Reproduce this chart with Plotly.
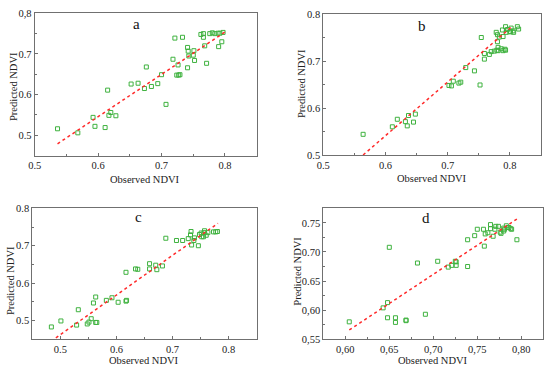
import plotly.graph_objects as go

# ---------------- data ----------------
a_obs = [0.536, 0.568, 0.592, 0.595, 0.611, 0.615, 0.617, 0.620, 0.628, 0.652, 0.663, 0.673, 0.676,
         0.684, 0.694, 0.700, 0.707, 0.718, 0.721, 0.724, 0.727, 0.729, 0.726, 0.733, 0.741, 0.741,
         0.742, 0.743, 0.750, 0.751, 0.752, 0.762, 0.766, 0.766, 0.768, 0.771, 0.776, 0.780, 0.784,
         0.789, 0.790, 0.795, 0.797, 0.792]
a_pred = [0.516, 0.506, 0.544, 0.522, 0.519, 0.611, 0.549, 0.556, 0.548, 0.626, 0.628, 0.615, 0.668,
          0.620, 0.627, 0.649, 0.576, 0.687, 0.739, 0.648, 0.648, 0.649, 0.673, 0.741, 0.716, 0.666,
          0.707, 0.695, 0.697, 0.708, 0.684, 0.748, 0.750, 0.741, 0.720, 0.677, 0.750, 0.752, 0.750,
          0.751, 0.718, 0.730, 0.753, 0.751]
a_fit_x = [0.536, 0.800]
a_fit_y = [0.479, 0.754]

b_obs = [0.564, 0.611, 0.619, 0.632, 0.635, 0.637, 0.645, 0.648, 0.702, 0.706, 0.709, 0.718, 0.721,
         0.729, 0.743, 0.752, 0.754, 0.759, 0.759, 0.767, 0.770, 0.775, 0.779, 0.778, 0.780, 0.780,
         0.781, 0.783, 0.786, 0.788, 0.789, 0.792, 0.793, 0.793, 0.794, 0.796, 0.800, 0.802, 0.805,
         0.806, 0.781, 0.812, 0.814, 0.789, 0.801]
b_pred = [0.544, 0.560, 0.576, 0.571, 0.562, 0.584, 0.570, 0.587, 0.648, 0.647, 0.657, 0.653, 0.655,
          0.686, 0.679, 0.649, 0.750, 0.704, 0.716, 0.714, 0.720, 0.721, 0.723, 0.761, 0.756, 0.741,
          0.729, 0.751, 0.726, 0.766, 0.722, 0.725, 0.723, 0.773, 0.761, 0.767, 0.762, 0.770, 0.764,
          0.761, 0.722, 0.773, 0.768, 0.752, 0.763]
b_fit_x = [0.564, 0.803]
b_fit_y = [0.500, 0.773]

c_obs = [0.484, 0.501, 0.529, 0.532, 0.548, 0.551, 0.555, 0.559, 0.563, 0.563, 0.565, 0.582, 0.592,
         0.603, 0.617, 0.618, 0.617, 0.634, 0.638, 0.659, 0.659, 0.670, 0.672, 0.682, 0.688, 0.707,
         0.718, 0.728, 0.732, 0.733, 0.734, 0.738, 0.739, 0.746, 0.748, 0.751, 0.752, 0.756, 0.757,
         0.760, 0.763, 0.773, 0.777, 0.780, 0.755]
c_pred = [0.483, 0.499, 0.488, 0.529, 0.491, 0.496, 0.505, 0.547, 0.563, 0.495, 0.495, 0.554, 0.561,
          0.549, 0.629, 0.554, 0.552, 0.638, 0.637, 0.652, 0.638, 0.648, 0.636, 0.646, 0.720, 0.714,
          0.714, 0.719, 0.729, 0.738, 0.702, 0.714, 0.721, 0.700, 0.730, 0.734, 0.724, 0.735, 0.740,
          0.728, 0.735, 0.737, 0.737, 0.738, 0.724]
c_fit_x = [0.492, 0.781]
c_fit_y = [0.454, 0.760]

d_obs = [0.6045, 0.643, 0.648, 0.648, 0.650, 0.657, 0.657, 0.669, 0.669, 0.682, 0.691, 0.705, 0.717,
         0.721, 0.725, 0.726, 0.726, 0.739, 0.739, 0.747, 0.750, 0.757, 0.758, 0.759, 0.762, 0.765,
         0.765, 0.768, 0.770, 0.771, 0.774, 0.776, 0.777, 0.780, 0.780, 0.781, 0.783, 0.785, 0.786,
         0.788, 0.789, 0.795]
d_pred = [0.580, 0.604, 0.613, 0.587, 0.708, 0.587, 0.579, 0.583, 0.582, 0.681, 0.593, 0.684, 0.674,
          0.677, 0.684, 0.677, 0.683, 0.721, 0.675, 0.728, 0.739, 0.739, 0.710, 0.731, 0.733, 0.747,
          0.740, 0.727, 0.739, 0.744, 0.744, 0.734, 0.732, 0.741, 0.736, 0.739, 0.745, 0.742, 0.742,
          0.740, 0.739, 0.721]
d_fit_x = [0.6045, 0.797]
d_fit_y = [0.566, 0.7586]

# tick labels
ab_x_vals = [0.5, 0.6, 0.7, 0.8]
ab_x_text = ["0.5", "0.6", "0.7", "0.8"]
a_y_vals = [0.5, 0.6, 0.7, 0.8]
a_y_text = ["0.5", "0.6", "0.7", "0,8"]
b_y_vals = [0.5, 0.6, 0.7, 0.8]
b_y_text = ["0.5", "0.6", "0.7", "0.8"]
c_x_vals = [0.5, 0.6, 0.7, 0.8]
c_x_text = ["0.5", "0.6", "0.7", "0.8"]
c_y_vals = [0.5, 0.6, 0.7, 0.8]
c_y_text = ["0.5", "0.6", "0.7", "0.8"]
d_x_vals = [0.60, 0.65, 0.70, 0.75, 0.80]
d_x_text = ["0,60", "0,65", "0,70", "0,75", "0,80"]
d_y_vals = [0.55, 0.60, 0.65, 0.70, 0.75]
d_y_text = ["0,55", "0,60", "0.65", "0.70", "0.75"]

panel_letters = ["a", "b", "c", "d"]
x_title = "Observed NDVI"
y_title = "Predicted NDVI"

# ---------------- figure ----------------
W, H = 550, 373
GREEN = "#3fb23f"
RED = "#ff2a2a"
FRAME = "#707070"
FONT = "Liberation Serif"

fig = go.Figure()

panels = [
    dict(obs=a_obs, pred=a_pred, fx=a_fit_x, fy=a_fit_y, xr=[0.5, 0.85], yr=[0.45, 0.8],
         xv=ab_x_vals, xt=ab_x_text, yv=a_y_vals, yt=a_y_text, xm=0.05, ym=0.05,
         px=(34.7, 256.7), py=(13.3, 155.6)),
    dict(obs=b_obs, pred=b_pred, fx=b_fit_x, fy=b_fit_y, xr=[0.5, 0.85], yr=[0.5, 0.8],
         xv=ab_x_vals, xt=ab_x_text, yv=b_y_vals, yt=b_y_text, xm=0.05, ym=0.05,
         px=(323.3, 541.0), py=(14.0, 155.0)),
    dict(obs=c_obs, pred=c_pred, fx=c_fit_x, fy=c_fit_y, xr=[0.45, 0.85], yr=[0.45, 0.8],
         xv=c_x_vals, xt=c_x_text, yv=c_y_vals, yt=c_y_text, xm=0.05, ym=0.05,
         px=(32.3, 256.7), py=(208.3, 339.3)),
    dict(obs=d_obs, pred=d_pred, fx=d_fit_x, fy=d_fit_y, xr=[0.575, 0.825], yr=[0.55, 0.775],
         xv=d_x_vals, xt=d_x_text, yv=d_y_vals, yt=d_y_text, xm=0.025, ym=0.025,
         px=(323.3, 543.3), py=(208.3, 339.3)),
]

letter_pos = [(136.7, 24), (421.7, 25.7), (138.3, 217), (426, 217.7)]
xt_pos = [(145, 179), (431.7, 178), (144, 360.5), (433.3, 360)]
yt_pos = [(13.3, 86.7), (301.7, 83.3), (10, 281), (296.7, 271)]

annotations = []
for i, p in enumerate(panels):
    n = "" if i == 0 else str(i + 1)
    xa, ya = "x" + n, "y" + n
    fig.add_trace(go.Scatter(x=p["obs"], y=p["pred"], mode="markers", xaxis=xa, yaxis=ya,
                             marker=dict(symbol="square-open", size=4, color=GREEN,
                                         line=dict(width=1, color=GREEN)),
                             showlegend=False, hoverinfo="skip"))
    fig.add_trace(go.Scatter(x=p["fx"], y=p["fy"], mode="lines", xaxis=xa, yaxis=ya,
                             line=dict(color=RED, width=1.5, dash="dot"),
                             showlegend=False, hoverinfo="skip"))
    axis_common = dict(showline=True, mirror=True, linecolor=FRAME, linewidth=1,
                       showgrid=False, zeroline=False, ticks="inside", ticklen=3,
                       tickcolor=FRAME, tickwidth=1, automargin=False,
                       tickfont=dict(family=FONT, size=10.5, color="#222"))
    fig.layout["xaxis" + n] = dict(
        **axis_common, domain=[p["px"][0] / W, p["px"][1] / W], range=p["xr"],
        anchor=ya, tickmode="array", tickvals=p["xv"], ticktext=p["xt"],
        minor=dict(ticks="inside", ticklen=2, dtick=p["xm"], tick0=0, tickcolor=FRAME))
    fig.layout["yaxis" + n] = dict(
        **axis_common, domain=[1 - p["py"][1] / H, 1 - p["py"][0] / H], range=p["yr"],
        anchor=xa, tickmode="array", tickvals=p["yv"], ticktext=p["yt"],
        minor=dict(ticks="inside", ticklen=2, dtick=p["ym"], tick0=0, tickcolor=FRAME))

    lx, ly = letter_pos[i]
    annotations.append(dict(x=lx / W, y=1 - ly / H, xref="paper", yref="paper",
                            xanchor="center", yanchor="middle",
                            text=panel_letters[i], showarrow=False,
                            font=dict(family=FONT, size=15, color="#111")))
    tx, ty = xt_pos[i]
    annotations.append(dict(x=tx / W, y=1 - ty / H, xref="paper", yref="paper",
                            xanchor="center", yanchor="middle",
                            text=x_title, showarrow=False,
                            font=dict(family=FONT, size=10.5, color="#222")))
    yx, yy = yt_pos[i]
    annotations.append(dict(x=yx / W, y=1 - yy / H, xref="paper", yref="paper",
                            xanchor="center", yanchor="middle",
                            text=y_title, showarrow=False, textangle=-90,
                            font=dict(family=FONT, size=10.5, color="#222")))

fig.update_layout(width=W, height=H, margin=dict(l=0, r=0, t=0, b=0),
                  paper_bgcolor="white", plot_bgcolor="white",
                  font=dict(family=FONT),
                  annotations=annotations)

fig.write_html("out.html", config={"displayModeBar": False},
               post_script="document.body.style.margin='0';")
